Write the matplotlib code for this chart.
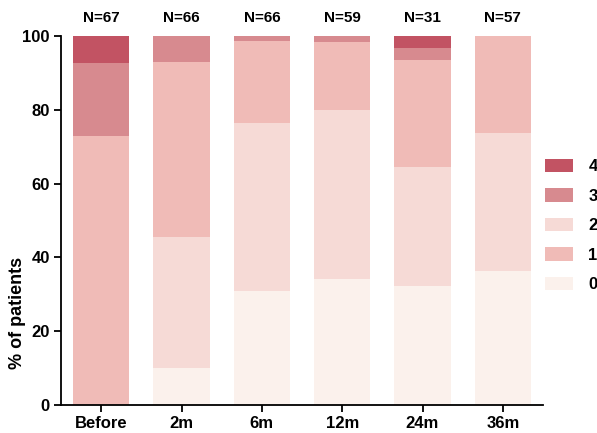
import matplotlib
matplotlib.use("Agg")
import matplotlib.pyplot as plt
from matplotlib.patches import Patch
import numpy as np

plt.rcParams['font.family'] = ['Liberation Sans', 'DejaVu Sans']
plt.rcParams['font.weight'] = 'bold'

categories = ["Before", "2m", "6m", "12m", "24m", "36m"]
n_labels = ["N=67", "N=66", "N=66", "N=59", "N=31", "N=57"]

# percentages per score, stacked bottom-to-top in order: 0, 2, 1, 3, 4
score0 = [0.0, 10.1, 30.9, 34.1, 32.3, 36.3]
score2 = [0.0, 35.3, 45.5, 45.8, 32.2, 37.4]
score1 = [72.8, 47.5, 22.2, 18.6, 29.0, 26.3]
score3 = [19.9, 7.1, 1.4, 1.5, 3.3, 0.0]
score4 = [7.3, 0.0, 0.0, 0.0, 3.2, 0.0]

colors = {
    "4": "#C25363",
    "3": "#D78A8F",
    "2": "#F6DAD6",
    "1": "#F0BBB7",
    "0": "#FBF1EC",
}

fig = plt.figure(figsize=(5.97, 4.33), dpi=100)
ax = fig.add_axes([61/597, 1-405/433, (543-61)/597, (405-36)/433])

x = np.arange(len(categories))
w = 0.7
bottom = np.zeros(len(categories))
for key, vals in [("0", score0), ("2", score2), ("1", score1), ("3", score3), ("4", score4)]:
    v = np.array(vals)
    ax.bar(x, v, w, bottom=bottom, color=colors[key], linewidth=0)
    bottom += v

for xi, lab in zip(x, n_labels):
    ax.text(xi, 104.8, lab, ha='center', va='center', fontsize=11, fontweight='bold', clip_on=False)

ax.set_xlim(-0.5, 5.5)
ax.set_ylim(0, 100)
ax.set_yticks([0, 20, 40, 60, 80, 100])
ax.set_xticks(x)
ax.set_xticklabels(categories)
for s in ["top", "right"]:
    ax.spines[s].set_visible(False)
for s in ["left", "bottom"]:
    ax.spines[s].set_linewidth(1.3)
ax.tick_params(axis='both', direction='out', length=5, width=1.3, labelsize=12, pad=3)
for t in ax.get_xticklabels() + ax.get_yticklabels():
    t.set_fontweight('bold')

fig.text(18/597, 1-313/433, "% of patients", rotation=90, ha='center', va='center',
         fontsize=13, fontweight='bold')

handles = [Patch(facecolor=colors[k], edgecolor='none', label=k) for k in ["4", "3", "2", "1", "0"]]
leg = fig.legend(handles=handles, loc='center left', bbox_to_anchor=(545/597, 1-225.5/433),
                 frameon=False, handlelength=1.65, handleheight=0.85,
                 labelspacing=0.85, handletextpad=0.95, borderpad=0, borderaxespad=0,
                 prop={'weight': 'bold', 'size': 12})

fig.savefig("out.png", dpi=100)
